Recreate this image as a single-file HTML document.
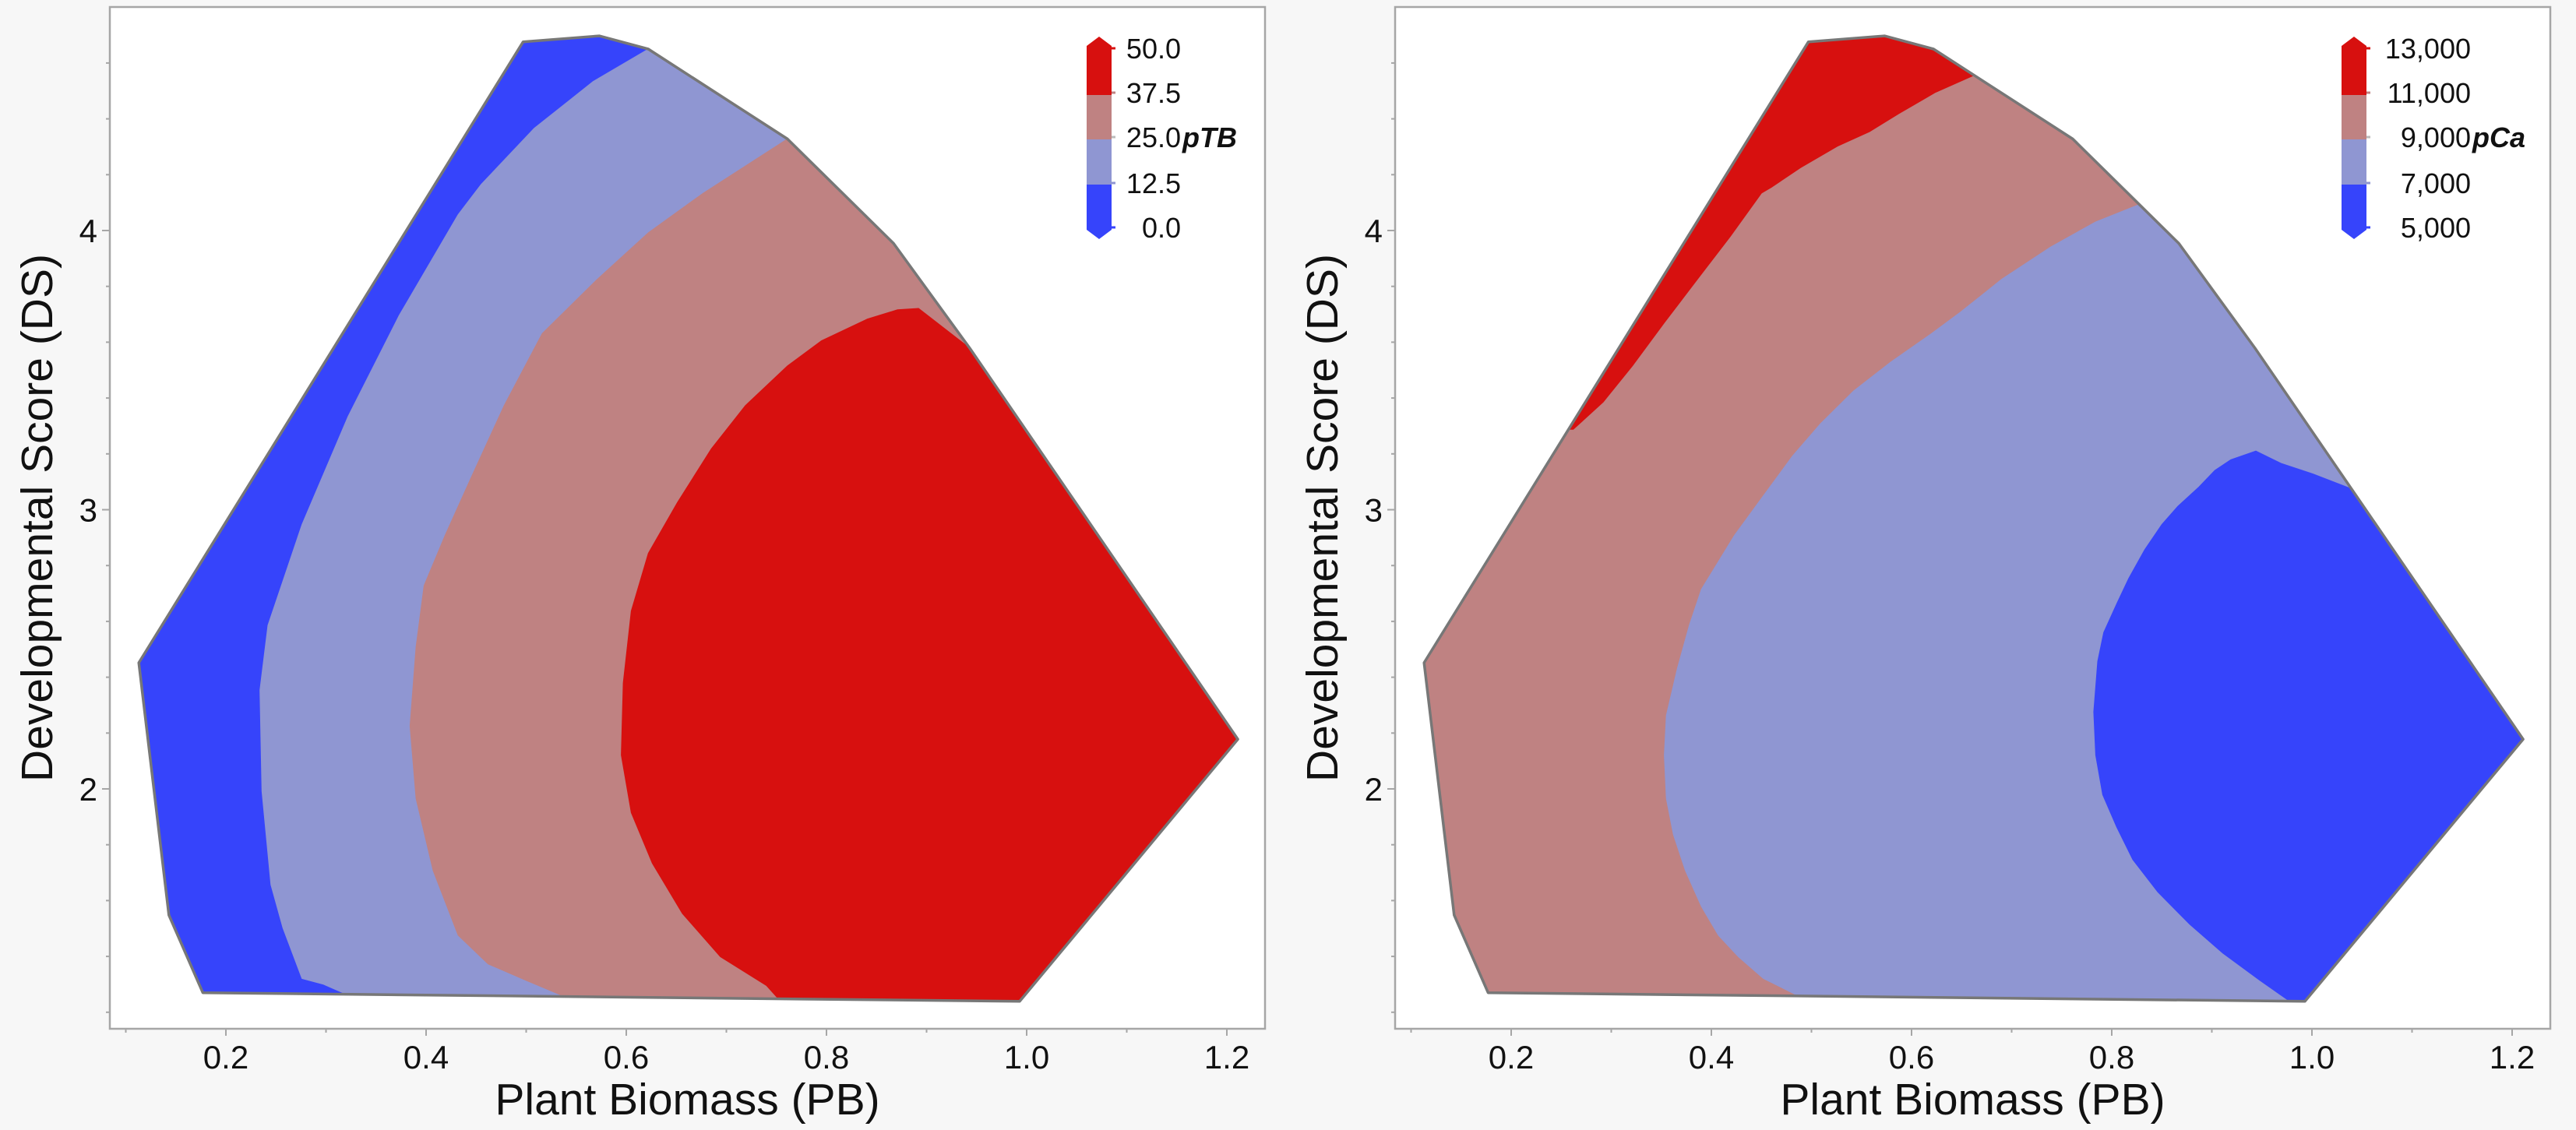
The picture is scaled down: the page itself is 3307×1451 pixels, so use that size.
<!DOCTYPE html>
<html><head><meta charset="utf-8">
<style>
html,body{margin:0;padding:0;background:#f7f7f7;}
svg{display:block;font-family:"Liberation Sans",Arial,sans-serif;}
</style></head>
<body>
<svg id="chart" width="3307" height="1451" viewBox="0 0 3307 1451" xmlns="http://www.w3.org/2000/svg">
<rect x="0" y="0" width="3307" height="1451" fill="#f7f7f7"/>
</svg>
<script>
// ---- data (data units: x = Plant Biomass, y = Developmental Score) ----
const hullX = [0.497,0.573,0.622,0.761,0.867,0.943,1.211,0.993,0.177,0.143,0.113];
const hullY = [4.676,4.697,4.650,4.328,3.954,3.579,2.178,1.239,1.270,1.548,2.452];

// left: pTB contours
const tb125X = [0.622,0.567,0.508,0.455,0.432,0.373,0.322,0.276,0.242,0.234,0.236,0.245,0.257,0.276,0.297,0.322];
const tb125Y = [4.650,4.534,4.366,4.165,4.057,3.695,3.334,2.947,2.586,2.354,1.992,1.657,1.502,1.321,1.301,1.262];
const tb25X = [0.761,0.677,0.622,0.571,0.516,0.478,0.445,0.419,0.398,0.390,0.384,0.390,0.407,0.432,0.462,0.500,0.538];
const tb25Y = [4.328,4.134,3.992,3.825,3.631,3.373,3.115,2.908,2.728,2.508,2.225,1.966,1.708,1.476,1.373,1.314,1.257];
const tb375X = [0.943,0.892,0.871,0.841,0.795,0.761,0.719,0.685,0.651,0.622,0.605,0.597,0.595,0.605,0.626,0.656,0.694,0.740,0.753];
const tb375Y = [3.579,3.721,3.716,3.683,3.605,3.515,3.373,3.218,3.025,2.844,2.637,2.379,2.121,1.915,1.734,1.554,1.399,1.296,1.244];

// right: pCa contours
const ca11X = [0.665,0.624,0.587,0.558,0.526,0.489,0.460,0.450,0.419,0.386,0.353,0.321,0.292,0.262];
const ca11Y = [4.560,4.495,4.418,4.354,4.302,4.225,4.155,4.134,3.979,3.825,3.670,3.515,3.386,3.288];
const ca9X = [0.829,0.784,0.739,0.690,0.649,0.620,0.579,0.542,0.509,0.481,0.452,0.423,0.390,0.378,0.366,0.355,0.353,0.355,0.362,0.374,0.390,0.407,0.427,0.452,0.485];
const ca9Y = [4.095,4.031,3.941,3.825,3.708,3.631,3.528,3.425,3.308,3.192,3.050,2.908,2.715,2.586,2.431,2.263,2.121,1.966,1.837,1.708,1.579,1.476,1.399,1.321,1.262];
const ca7X = [1.042,1.001,0.969,0.944,0.919,0.903,0.887,0.866,0.850,0.833,0.817,0.805,0.792,0.786,0.782,0.784,0.791,0.805,0.821,0.846,0.878,0.911,0.948,0.978];
const ca7Y = [3.071,3.128,3.166,3.210,3.179,3.141,3.081,3.012,2.947,2.857,2.754,2.663,2.560,2.457,2.276,2.121,1.979,1.863,1.747,1.631,1.515,1.412,1.314,1.239];

const xTicks = [0.2,0.4,0.6,0.8,1.0,1.2];
const xTickLabels = ["0.2","0.4","0.6","0.8","1.0","1.2"];
const yTicks = [2,3,4];
const yTickLabels = ["2","3","4"];
const tbLegendLabels = ["50.0","37.5","25.0","12.5","0.0"];
const caLegendLabels = ["13,000","11,000","9,000","7,000","5,000"];

const C = {red:"#d7100f", pink:"#bf8282", lblue:"#8f96d2", blue:"#3644fb"};
const NS = "http://www.w3.org/2000/svg";
const svg = document.getElementById("chart");
function mk(tag, attrs, parent){const e=document.createElementNS(NS,tag);for(const k in attrs)e.setAttribute(k,attrs[k]);(parent||svg).appendChild(e);return e;}

function panel(x0, id){
  const sx = v => x0 + (v-0.2)*1285;
  const sy = v => 296 + (4-v)*358.5;
  const fx = x0-149, fr = x0+1334, ft = 9, fb = 1321;
  const g = mk("g",{});
  
  
  const bg = mk("rect",{x:fx,y:ft,width:fr-fx,height:fb-ft,fill:"#fff",stroke:"#a6a6a6","stroke-width":2.5},g);
  
  
  const pts = (X,Y)=>X.map((v,i)=>sx(v).toFixed(1)+","+sy(Y[i]).toFixed(1));
  const defs = mk("defs",{},g);
  const cp = mk("clipPath",{id:id+"-clip"},defs);
  mk("polygon",{points:pts(hullX,hullY).join(" ")},cp);
  const cg = mk("g",{"clip-path":"url(#"+id+"-clip)"},g);
  
  
  return {g,cg,sx,sy,pts,fx,fr,ft,fb};
}

function region(P, X, Y, close, color, name){
  const p = P.pts(X,Y);
  const extra = close.map(c=>P.sx(c[0]).toFixed(1)+","+P.sy(c[1]).toFixed(1));
  const el = mk("polygon",{points:p.concat(extra).join(" "),fill:color,stroke:color,"stroke-width":1},P.cg);
  
  
}

function axes(P, id, legendLabels, legendTitle, legX, labRight){
  const g = P.g;
  const h = mk("polygon",{points:P.pts(hullX,hullY).join(" "),fill:"none",stroke:"#777","stroke-width":3.5,"stroke-linejoin":"round"},g);
  
  
  for(let v=0.1; v<1.25; v+=0.1){
    const major = xTicks.some(t=>Math.abs(t-v)<1e-6);
    const t = mk("line",{x1:P.sx(v),x2:P.sx(v),y1:P.fb,y2:P.fb+(major?9:5),stroke:"#a6a6a6","stroke-width":2},g);
    
    
  }
  xTicks.forEach((v,i)=>{
    const t = mk("text",{x:P.sx(v),y:1372,"font-size":42,"text-anchor":"middle",fill:"#111"},g);
    t.textContent = xTickLabels[i];
    
    
  });
  for(let v=1.2; v<4.7; v+=0.2){
    const major = yTicks.some(t=>Math.abs(t-v)<1e-6);
    const t = mk("line",{x1:P.fx-(major?10:5),x2:P.fx,y1:P.sy(v),y2:P.sy(v),stroke:"#a6a6a6","stroke-width":2},g);
    
    
  }
  yTicks.forEach((v,i)=>{
    const t = mk("text",{x:P.fx-16,y:P.sy(v)+15,"font-size":42,"text-anchor":"end",fill:"#111"},g);
    t.textContent = yTickLabels[i];
    
    
  });
  const xt = mk("text",{x:(P.fx+P.fr)/2,y:1431,"font-size":57,"text-anchor":"middle",fill:"#111"},g);
  xt.textContent = "Plant Biomass (PB)";
  
  
  const yx = P.fx-74, yy = 665;
  const yt = mk("text",{x:yx,y:yy,"font-size":57,"text-anchor":"middle",fill:"#111",transform:"rotate(-90 "+yx+" "+yy+")"},g);
  yt.textContent = "Developmental Score (DS)";
  
  
  const lg = mk("g",{},g);
  
  
  const cols = [C.red,C.pink,C.lblue,C.blue];
  const segT = [59,122,179,237], segB = [122,179,237,295];
  cols.forEach((c,i)=>{
    const r = mk("rect",{x:legX,y:segT[i],width:32,height:segB[i]-segT[i],fill:c},lg);
    
    
  });
  const up = mk("polygon",{points:(legX)+",59 "+(legX+16)+",47 "+(legX+32)+",59",fill:C.red},lg);
  
  
  const dn = mk("polygon",{points:(legX)+",295 "+(legX+16)+",307 "+(legX+32)+",295",fill:C.blue},lg);
  
  
  const tickY = [62,119,176,235,292];
  const tickC = [C.red,C.pink,"#bbb",C.lblue,C.blue];
  legendLabels.forEach((s,i)=>{
    const tk = mk("line",{x1:legX+32,x2:legX+37,y1:tickY[i],y2:tickY[i],stroke:tickC[i],"stroke-width":3},lg);
    
    
    const t = mk("text",{x:labRight,y:tickY[i]+13,"font-size":36,"text-anchor":"end",fill:"#111"},lg);
    t.textContent = s;
    
    
  });
  const tt = mk("text",{x:labRight+2,y:189,"font-size":36,"font-weight":"bold","font-style":"italic",fill:"#111"},lg);
  tt.textContent = legendTitle;
  
  
}

const L = panel(290, "ptb");
region(L, hullX, hullY, [], C.blue, "ptb-region-0-12.5");
region(L, tb125X, tb125Y, [[tb125X[tb125X.length-1],0.9],[2,0.9],[2,5.2],[tb125X[0],5.2]], C.lblue, "ptb-region-12.5-25");
region(L, tb25X, tb25Y, [[tb25X[tb25X.length-1],0.9],[2,0.9],[2,5.2],[tb25X[0],5.2]], C.pink, "ptb-region-25-37.5");
region(L, tb375X, tb375Y, [[tb375X[tb375X.length-1],0.9],[2,0.9],[2,tb375Y[0]]], C.red, "ptb-region-37.5-50");
axes(L, "ptb", tbLegendLabels, "pTB", 1395, 1516);

const R = panel(1940, "pca");
region(R, hullX, hullY, [], C.pink, "pca-region-9000-11000");
region(R, ca11X, ca11Y, [[-0.5,ca11Y[ca11Y.length-1]],[-0.5,5.2],[ca11X[0],5.2]], C.red, "pca-region-11000-13000");
region(R, ca9X, ca9Y, [[ca9X[ca9X.length-1],0.9],[2,0.9],[2,5.2],[ca9X[0],5.2]], C.lblue, "pca-region-7000-9000");
region(R, ca7X, ca7Y, [[ca7X[ca7X.length-1],0.9],[2,0.9],[2,ca7Y[0]]], C.blue, "pca-region-5000-7000");
axes(R, "pca", caLegendLabels, "pCa", 3006, 3172);
</script>
</body></html>
